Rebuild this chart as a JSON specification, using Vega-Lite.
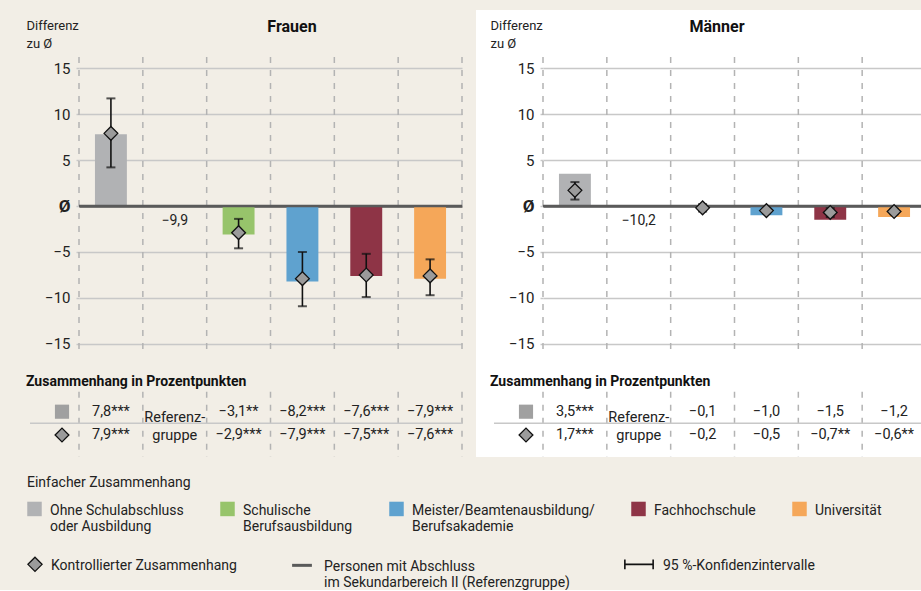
{
"$schema":"https://vega.github.io/schema/vega-lite/v6.json",
"background":"#f2eee6",
"padding":{"left":12,"top":10,"right":0,"bottom":0},
"config":{"font":"Roboto","view":{"stroke":null},"text":{"font":"Roboto"}},
"datasets":{
"bars":[
{"sex":"Frauen","cat":"Ohne Schulabschluss oder Ausbildung","einfach":7.8,"kontrolliert":7.9,"lo":4.2,"hi":11.7},
{"sex":"Frauen","cat":"Sekundarbereich II","ref":"−9,9"},
{"sex":"Frauen","cat":"Schulische Berufsausbildung","einfach":-3.1,"kontrolliert":-2.9,"lo":-4.6,"hi":-1.4},
{"sex":"Frauen","cat":"Meister/Beamtenausbildung/Berufsakademie","einfach":-8.2,"kontrolliert":-7.9,"lo":-10.9,"hi":-5.0},
{"sex":"Frauen","cat":"Fachhochschule","einfach":-7.6,"kontrolliert":-7.5,"lo":-9.9,"hi":-5.2},
{"sex":"Frauen","cat":"Universität","einfach":-7.9,"kontrolliert":-7.6,"lo":-9.7,"hi":-5.8},
{"sex":"Männer","cat":"Ohne Schulabschluss oder Ausbildung","einfach":3.5,"kontrolliert":1.7,"lo":0.7,"hi":2.6},
{"sex":"Männer","cat":"Sekundarbereich II","ref":"−10,2"},
{"sex":"Männer","cat":"Schulische Berufsausbildung","einfach":-0.1,"kontrolliert":-0.2,"lo":-0.6,"hi":0.2},
{"sex":"Männer","cat":"Meister/Beamtenausbildung/Berufsakademie","einfach":-1.0,"kontrolliert":-0.5,"lo":-0.8,"hi":-0.2},
{"sex":"Männer","cat":"Fachhochschule","einfach":-1.5,"kontrolliert":-0.7,"lo":-1.2,"hi":-0.2},
{"sex":"Männer","cat":"Universität","einfach":-1.2,"kontrolliert":-0.6,"lo":-0.9,"hi":-0.3}
],
"table":[
{"sex":"Frauen","cat":"Ohne Schulabschluss oder Ausbildung","row":"Einfach","text":"7,8***"},
{"sex":"Frauen","cat":"Ohne Schulabschluss oder Ausbildung","row":"Kontrolliert","text":"7,9***"},
{"sex":"Frauen","cat":"Schulische Berufsausbildung","row":"Einfach","text":"−3,1**"},
{"sex":"Frauen","cat":"Schulische Berufsausbildung","row":"Kontrolliert","text":"−2,9***"},
{"sex":"Frauen","cat":"Meister/Beamtenausbildung/Berufsakademie","row":"Einfach","text":"−8,2***"},
{"sex":"Frauen","cat":"Meister/Beamtenausbildung/Berufsakademie","row":"Kontrolliert","text":"−7,9***"},
{"sex":"Frauen","cat":"Fachhochschule","row":"Einfach","text":"−7,6***"},
{"sex":"Frauen","cat":"Fachhochschule","row":"Kontrolliert","text":"−7,5***"},
{"sex":"Frauen","cat":"Universität","row":"Einfach","text":"−7,9***"},
{"sex":"Frauen","cat":"Universität","row":"Kontrolliert","text":"−7,6***"},
{"sex":"Männer","cat":"Ohne Schulabschluss oder Ausbildung","row":"Einfach","text":"3,5***"},
{"sex":"Männer","cat":"Ohne Schulabschluss oder Ausbildung","row":"Kontrolliert","text":"1,7***"},
{"sex":"Männer","cat":"Schulische Berufsausbildung","row":"Einfach","text":"−0,1"},
{"sex":"Männer","cat":"Schulische Berufsausbildung","row":"Kontrolliert","text":"−0,2"},
{"sex":"Männer","cat":"Meister/Beamtenausbildung/Berufsakademie","row":"Einfach","text":"−1,0"},
{"sex":"Männer","cat":"Meister/Beamtenausbildung/Berufsakademie","row":"Kontrolliert","text":"−0,5"},
{"sex":"Männer","cat":"Fachhochschule","row":"Einfach","text":"−1,5"},
{"sex":"Männer","cat":"Fachhochschule","row":"Kontrolliert","text":"−0,7**"},
{"sex":"Männer","cat":"Universität","row":"Einfach","text":"−1,2"},
{"sex":"Männer","cat":"Universität","row":"Kontrolliert","text":"−0,6**"}
]
},
"spacing":12,
"resolve":{"scale":{"color":"shared"}},
"hconcat":[
{
"title":{"text":"Frauen","offset":-25,"dx":55,"anchor":"middle","fontSize":16,"fontWeight":"bold","color":"#111"},
"width":450,"height":447,
"view":{"stroke":null},
"resolve":{"scale":{"y":"independent"}},
"layer":[
{"layer":[
{"data":{"name":"bars"},"transform":[{"filter":"datum.sex == 'Frauen'"}],
"mark":{"type":"rule","strokeDash":[6,7],"color":"#b3b3b3","strokeWidth":1.5},
"encoding":{
"x":{"field":"cat","type":"nominal","bandPosition":0,"axis":null,"scale":{"type":"band","domain":["Ohne Schulabschluss oder Ausbildung","Sekundarbereich II","Schulische Berufsausbildung","Meister/Beamtenausbildung/Berufsakademie","Fachhochschule","Universität"],"range":[67,450],"paddingInner":0,"paddingOuter":0}},
"y":{"datum":16.2,"type":"quantitative","scale":{"domain":[-16.2,16.2],"range":[345,47],"nice":false,"zero":false},
"axis":{"values":[-15,-10,-5,0,5,10,15],"offset":-67,"domain":false,"grid":true,
"gridColor":{"condition":{"test":"datum.value === 0","value":"#5a5a5a"},"value":"#c8c8c8"},
"gridWidth":{"condition":{"test":"datum.value === 0","value":2.5},"value":1.5},
"tickSize":3,"tickColor":"#c8c8c8","tickWidth":1.5,
"labelFontSize":{"condition":{"test":"datum.value === 0","value":17},"value":15},
"labelFontWeight":{"condition":{"test":"datum.value === 0","value":"bold"},"value":"normal"},
"labelColor":"#222","labelPadding":6,
"labelExpr":"datum.value === 0 ? 'Ø' : datum.label",
"title":["Differenz","zu Ø"],"titleAngle":0,"titleAlign":"left","titleBaseline":"top","titleX":-53,"titleY":9,"titleFontSize":13,"titleFontWeight":"normal","titleColor":"#222","titleLineHeight":18}},
"y2":{"datum":-16.2}}},
{"data":{"name":"bars"},"transform":[{"filter":"datum.sex == 'Frauen' && datum.cat == 'Universität'"}],
"mark":{"type":"rule","strokeDash":[6,7],"color":"#b3b3b3","strokeWidth":1.5},
"encoding":{"x":{"field":"cat","type":"nominal","bandPosition":1,"axis":null},
"y":{"datum":16.2,"type":"quantitative"},"y2":{"datum":-16.2}}},
{"data":{"name":"bars"},"transform":[{"filter":"datum.sex == 'Frauen' && isValid(datum.einfach)"}],
"mark":{"type":"bar","width":{"band":0.5}},
"encoding":{"x":{"field":"cat","type":"nominal","axis":null},
"y":{"field":"einfach","type":"quantitative"},
"color":{"field":"cat","type":"nominal",
"scale":{"domain":["Ohne Schulabschluss oder Ausbildung","Schulische Berufsausbildung","Meister/Beamtenausbildung/Berufsakademie","Fachhochschule","Universität"],"range":["#b1b2b4","#97c46b","#5fa2cf","#8e3446","#f5a759"]},
"legend":{"orient":"none","legendX":15,"legendY":466,"padding":0,"direction":"horizontal","columns":5,"columnPadding":36,
"title":"Einfacher Zusammenhang","titleFontSize":14,"titleFontWeight":"normal","titleColor":"#222","titlePadding":17,
"symbolType":"M-1,-1.8H1V0.2H-1Z","symbolSize":210,"symbolStrokeWidth":0,"symbolOpacity":1,
"labelFontSize":14,"labelColor":"#222","labelOffset":8,"labelLimit":400,"labelBaseline":"alphabetic",
"labelExpr":"datum.label == 'Ohne Schulabschluss oder Ausbildung' ? ['Ohne Schulabschluss','oder Ausbildung'] : datum.label == 'Schulische Berufsausbildung' ? ['Schulische','Berufsausbildung'] : datum.label == 'Meister/Beamtenausbildung/Berufsakademie' ? ['Meister/Beamtenausbildung/','Berufsakademie'] : [datum.label,' ']"}}}},
{"data":{"name":"bars"},"transform":[{"filter":"datum.sex == 'Frauen' && isValid(datum.lo)"}],
"mark":{"type":"rule","color":"#111","strokeWidth":1.6},
"encoding":{"x":{"field":"cat","type":"nominal","axis":null},"y":{"field":"lo","type":"quantitative"},"y2":{"field":"hi"},
"strokeDash":{"datum":"95 %-Konfidenzintervalle","type":"nominal","scale":{"range":[[1,0]]},
"legend":{"orient":"none","legendX":619,"legendY":552,"padding":0,"title":null,"symbolType":"M-2,-1.5V-0.1M-2,-0.8H2M2,-1.5V-0.1","symbolSize":200,"symbolStrokeWidth":1.6,"symbolOpacity":1,
"labelFontSize":14,"labelColor":"#222","labelOffset":16,"labelLimit":400,"labelBaseline":"alphabetic"}}}},
{"data":{"name":"bars"},"transform":[{"filter":"datum.sex == 'Frauen' && isValid(datum.lo)"}],
"mark":{"type":"tick","orient":"horizontal","size":9,"thickness":2,"color":"#111"},
"encoding":{"x":{"field":"cat","type":"nominal","axis":null},"y":{"field":"lo","type":"quantitative"}}},
{"data":{"name":"bars"},"transform":[{"filter":"datum.sex == 'Frauen' && isValid(datum.hi)"}],
"mark":{"type":"tick","orient":"horizontal","size":9,"thickness":2,"color":"#111"},
"encoding":{"x":{"field":"cat","type":"nominal","axis":null},"y":{"field":"hi","type":"quantitative"}}},
{"data":{"values":[{}]},
"mark":{"type":"rule","color":"#5a5a5a","strokeWidth":2.5},
"encoding":{"x":{"datum":"Ohne Schulabschluss oder Ausbildung","type":"nominal","bandPosition":0,"axis":null},"x2":{"datum":"Universität","bandPosition":1},
"y":{"datum":0,"type":"quantitative"},
"stroke":{"datum":"Personen mit Abschluss im Sekundarbereich II (Referenzgruppe)","type":"nominal","scale":{"range":["#5a5a5a"]},
"legend":{"orient":"none","legendX":281,"legendY":552,"padding":0,"title":null,"symbolType":"M-1.4,-0.8H1.4","symbolSize":200,"symbolStrokeWidth":3,"symbolOpacity":1,
"labelFontSize":14,"labelColor":"#222","labelOffset":13,"labelLimit":400,"labelBaseline":"alphabetic",
"labelExpr":"['Personen mit Abschluss','im Sekundarbereich II (Referenzgruppe)']"}}}},
{"data":{"name":"bars"},"transform":[{"filter":"datum.sex == 'Frauen' && isValid(datum.kontrolliert)"}],
"mark":{"type":"point","shape":"diamond","filled":true,"size":190,"stroke":"#111","strokeWidth":1.3,"opacity":1},
"encoding":{"x":{"field":"cat","type":"nominal","axis":null},"y":{"field":"kontrolliert","type":"quantitative"},
"fill":{"datum":"Kontrollierter Zusammenhang","type":"nominal","scale":{"range":["#9b9b9b"]},
"legend":{"orient":"none","legendX":15,"legendY":552,"padding":0,"title":null,"symbolType":"M0,-1.8L1,-0.8L0,0.2L-1,-0.8Z","symbolSize":200,"symbolStrokeWidth":1.3,"symbolOpacity":1,
"labelFontSize":14,"labelColor":"#222","labelOffset":8,"labelLimit":400,"labelBaseline":"alphabetic"}}}},
{"data":{"name":"bars"},"transform":[{"filter":"datum.sex == 'Frauen' && isValid(datum.ref)"}],
"mark":{"type":"text","fontSize":14,"color":"#222","baseline":"top","dy":8},
"encoding":{"x":{"field":"cat","type":"nominal","axis":null},"y":{"datum":0,"type":"quantitative"},"text":{"field":"ref"}}}
]},
{"layer":[
{"data":{"name":"bars"},"transform":[{"filter":"datum.sex == 'Frauen'"}],
"mark":{"type":"rule","strokeDash":[6,7],"color":"#b3b3b3","strokeWidth":1.5,"yOffset":-20,"y2Offset":22},
"encoding":{"x":{"field":"cat","type":"nominal","bandPosition":0,"axis":null},
"y":{"datum":"Einfach","type":"nominal","axis":null,"scale":{"type":"point","domain":["Einfach","Kontrolliert"],"range":[401.7,425],"padding":0}},
"y2":{"datum":"Kontrolliert"}}},
{"data":{"name":"bars"},"transform":[{"filter":"datum.sex == 'Frauen' && datum.cat == 'Universität'"}],
"mark":{"type":"rule","strokeDash":[6,7],"color":"#b3b3b3","strokeWidth":1.5,"yOffset":-20,"y2Offset":22},
"encoding":{"x":{"field":"cat","type":"nominal","bandPosition":1,"axis":null},
"y":{"datum":"Einfach","type":"nominal","axis":null},"y2":{"datum":"Kontrolliert"}}},
{"data":{"values":[{}]},
"mark":{"type":"rule","color":"#c8c8c8","strokeWidth":1.5,"xOffset":-49,"yOffset":11.5},
"encoding":{"x":{"datum":"Ohne Schulabschluss oder Ausbildung","type":"nominal","bandPosition":0,"axis":null},"x2":{"datum":"Universität","bandPosition":1},
"y":{"datum":"Einfach","type":"nominal","axis":null}}},
{"data":{"name":"table"},"transform":[{"filter":"datum.sex == 'Frauen'"}],
"mark":{"type":"text","fontSize":14.5,"color":"#222"},
"encoding":{"x":{"field":"cat","type":"nominal","axis":null},"y":{"field":"row","type":"nominal","axis":null},"text":{"field":"text"}}},
{"data":{"values":[{"t":"Referenz-\ngruppe"}]},
"mark":{"type":"text","fontSize":14.5,"color":"#222","lineBreak":"\n","dy":6,"lineHeight":18},
"encoding":{"x":{"datum":"Sekundarbereich II","type":"nominal","axis":null},"y":{"datum":"Einfach","type":"nominal","axis":null},"text":{"field":"t"}}},
{"data":{"values":[{}]},
"mark":{"type":"point","shape":"square","filled":true,"size":200,"color":"#a0a0a0","strokeWidth":0,"opacity":1,"xOffset":-17},
"encoding":{"x":{"datum":"Ohne Schulabschluss oder Ausbildung","type":"nominal","bandPosition":0,"axis":null},"y":{"datum":"Einfach","type":"nominal","axis":null}}},
{"data":{"values":[{}]},
"mark":{"type":"point","shape":"diamond","filled":true,"size":190,"fill":"#9b9b9b","stroke":"#111","strokeWidth":1.3,"opacity":1,"xOffset":-17},
"encoding":{"x":{"datum":"Ohne Schulabschluss oder Ausbildung","type":"nominal","bandPosition":0,"axis":null},"y":{"datum":"Kontrolliert","type":"nominal","axis":null}}},
{"data":{"values":[{"t":"Zusammenhang in Prozentpunkten"}]},
"mark":{"type":"text","fontSize":14,"fontWeight":"bold","color":"#111","align":"left","dx":-53,"dy":-30},
"encoding":{"x":{"datum":"Ohne Schulabschluss oder Ausbildung","type":"nominal","bandPosition":0,"axis":null},"y":{"datum":"Einfach","type":"nominal","axis":null},"text":{"field":"t"}}}
]}
]
},
{
"title":{"text":"Männer","offset":-25,"dx":16,"anchor":"middle","fontSize":16,"fontWeight":"bold","color":"#111"},
"width":450,"height":447,
"view":{"stroke":null,"fill":"#ffffff"},
"resolve":{"scale":{"y":"independent"}},
"layer":[
{"layer":[
{"data":{"name":"bars"},"transform":[{"filter":"datum.sex == 'Männer'"}],
"mark":{"type":"rule","strokeDash":[6,7],"color":"#b3b3b3","strokeWidth":1.5},
"encoding":{
"x":{"field":"cat","type":"nominal","bandPosition":0,"axis":null,"scale":{"type":"band","domain":["Ohne Schulabschluss oder Ausbildung","Sekundarbereich II","Schulische Berufsausbildung","Meister/Beamtenausbildung/Berufsakademie","Fachhochschule","Universität"],"range":[67,450],"paddingInner":0,"paddingOuter":0}},
"y":{"datum":16.2,"type":"quantitative","scale":{"domain":[-16.2,16.2],"range":[345,47],"nice":false,"zero":false},
"axis":{"values":[-15,-10,-5,0,5,10,15],"offset":-67,"domain":false,"grid":true,
"gridColor":{"condition":{"test":"datum.value === 0","value":"#5a5a5a"},"value":"#c8c8c8"},
"gridWidth":{"condition":{"test":"datum.value === 0","value":2.5},"value":1.5},
"tickSize":3,"tickColor":"#c8c8c8","tickWidth":1.5,
"labelFontSize":{"condition":{"test":"datum.value === 0","value":17},"value":15},
"labelFontWeight":{"condition":{"test":"datum.value === 0","value":"bold"},"value":"normal"},
"labelColor":"#222","labelPadding":6,
"labelExpr":"datum.value === 0 ? 'Ø' : datum.label",
"title":["Differenz","zu Ø"],"titleAngle":0,"titleAlign":"left","titleBaseline":"top","titleX":-53,"titleY":9,"titleFontSize":13,"titleFontWeight":"normal","titleColor":"#222","titleLineHeight":18}},
"y2":{"datum":-16.2}}},
{"data":{"name":"bars"},"transform":[{"filter":"datum.sex == 'Männer' && datum.cat == 'Universität'"}],
"mark":{"type":"rule","strokeDash":[6,7],"color":"#b3b3b3","strokeWidth":1.5},
"encoding":{"x":{"field":"cat","type":"nominal","bandPosition":1,"axis":null},
"y":{"datum":16.2,"type":"quantitative"},"y2":{"datum":-16.2}}},
{"data":{"name":"bars"},"transform":[{"filter":"datum.sex == 'Männer' && isValid(datum.einfach)"}],
"mark":{"type":"bar","width":{"band":0.5}},
"encoding":{"x":{"field":"cat","type":"nominal","axis":null},
"y":{"field":"einfach","type":"quantitative"},
"color":{"field":"cat","type":"nominal"}}},
{"data":{"name":"bars"},"transform":[{"filter":"datum.sex == 'Männer' && isValid(datum.lo)"}],
"mark":{"type":"rule","color":"#111","strokeWidth":1.6},
"encoding":{"x":{"field":"cat","type":"nominal","axis":null},"y":{"field":"lo","type":"quantitative"},"y2":{"field":"hi"}}},
{"data":{"name":"bars"},"transform":[{"filter":"datum.sex == 'Männer' && isValid(datum.lo)"}],
"mark":{"type":"tick","orient":"horizontal","size":9,"thickness":2,"color":"#111"},
"encoding":{"x":{"field":"cat","type":"nominal","axis":null},"y":{"field":"lo","type":"quantitative"}}},
{"data":{"name":"bars"},"transform":[{"filter":"datum.sex == 'Männer' && isValid(datum.hi)"}],
"mark":{"type":"tick","orient":"horizontal","size":9,"thickness":2,"color":"#111"},
"encoding":{"x":{"field":"cat","type":"nominal","axis":null},"y":{"field":"hi","type":"quantitative"}}},
{"data":{"values":[{}]},
"mark":{"type":"rule","color":"#5a5a5a","strokeWidth":2.5},
"encoding":{"x":{"datum":"Ohne Schulabschluss oder Ausbildung","type":"nominal","bandPosition":0,"axis":null},"x2":{"datum":"Universität","bandPosition":1},
"y":{"datum":0,"type":"quantitative"}}},
{"data":{"name":"bars"},"transform":[{"filter":"datum.sex == 'Männer' && isValid(datum.kontrolliert)"}],
"mark":{"type":"point","shape":"diamond","filled":true,"size":190,"fill":"#9b9b9b","stroke":"#111","strokeWidth":1.3,"opacity":1},
"encoding":{"x":{"field":"cat","type":"nominal","axis":null},"y":{"field":"kontrolliert","type":"quantitative"}}},
{"data":{"name":"bars"},"transform":[{"filter":"datum.sex == 'Männer' && isValid(datum.ref)"}],
"mark":{"type":"text","fontSize":14,"color":"#222","baseline":"top","dy":8},
"encoding":{"x":{"field":"cat","type":"nominal","axis":null},"y":{"datum":0,"type":"quantitative"},"text":{"field":"ref"}}}
]},
{"layer":[
{"data":{"name":"bars"},"transform":[{"filter":"datum.sex == 'Männer'"}],
"mark":{"type":"rule","strokeDash":[6,7],"color":"#b3b3b3","strokeWidth":1.5,"yOffset":-20,"y2Offset":22},
"encoding":{"x":{"field":"cat","type":"nominal","bandPosition":0,"axis":null},
"y":{"datum":"Einfach","type":"nominal","axis":null,"scale":{"type":"point","domain":["Einfach","Kontrolliert"],"range":[401.7,425],"padding":0}},
"y2":{"datum":"Kontrolliert"}}},
{"data":{"name":"bars"},"transform":[{"filter":"datum.sex == 'Männer' && datum.cat == 'Universität'"}],
"mark":{"type":"rule","strokeDash":[6,7],"color":"#b3b3b3","strokeWidth":1.5,"yOffset":-20,"y2Offset":22},
"encoding":{"x":{"field":"cat","type":"nominal","bandPosition":1,"axis":null},
"y":{"datum":"Einfach","type":"nominal","axis":null},"y2":{"datum":"Kontrolliert"}}},
{"data":{"values":[{}]},
"mark":{"type":"rule","color":"#c8c8c8","strokeWidth":1.5,"xOffset":-49,"yOffset":11.5},
"encoding":{"x":{"datum":"Ohne Schulabschluss oder Ausbildung","type":"nominal","bandPosition":0,"axis":null},"x2":{"datum":"Universität","bandPosition":1},
"y":{"datum":"Einfach","type":"nominal","axis":null}}},
{"data":{"name":"table"},"transform":[{"filter":"datum.sex == 'Männer'"}],
"mark":{"type":"text","fontSize":14.5,"color":"#222"},
"encoding":{"x":{"field":"cat","type":"nominal","axis":null},"y":{"field":"row","type":"nominal","axis":null},"text":{"field":"text"}}},
{"data":{"values":[{"t":"Referenz-\ngruppe"}]},
"mark":{"type":"text","fontSize":14.5,"color":"#222","lineBreak":"\n","dy":6,"lineHeight":18},
"encoding":{"x":{"datum":"Sekundarbereich II","type":"nominal","axis":null},"y":{"datum":"Einfach","type":"nominal","axis":null},"text":{"field":"t"}}},
{"data":{"values":[{}]},
"mark":{"type":"point","shape":"square","filled":true,"size":200,"color":"#a0a0a0","strokeWidth":0,"opacity":1,"xOffset":-17},
"encoding":{"x":{"datum":"Ohne Schulabschluss oder Ausbildung","type":"nominal","bandPosition":0,"axis":null},"y":{"datum":"Einfach","type":"nominal","axis":null}}},
{"data":{"values":[{}]},
"mark":{"type":"point","shape":"diamond","filled":true,"size":190,"fill":"#9b9b9b","stroke":"#111","strokeWidth":1.3,"opacity":1,"xOffset":-17},
"encoding":{"x":{"datum":"Ohne Schulabschluss oder Ausbildung","type":"nominal","bandPosition":0,"axis":null},"y":{"datum":"Kontrolliert","type":"nominal","axis":null}}},
{"data":{"values":[{"t":"Zusammenhang in Prozentpunkten"}]},
"mark":{"type":"text","fontSize":14,"fontWeight":"bold","color":"#111","align":"left","dx":-53,"dy":-30},
"encoding":{"x":{"datum":"Ohne Schulabschluss oder Ausbildung","type":"nominal","bandPosition":0,"axis":null},"y":{"datum":"Einfach","type":"nominal","axis":null},"text":{"field":"t"}}}
]}
]
}
]
}
